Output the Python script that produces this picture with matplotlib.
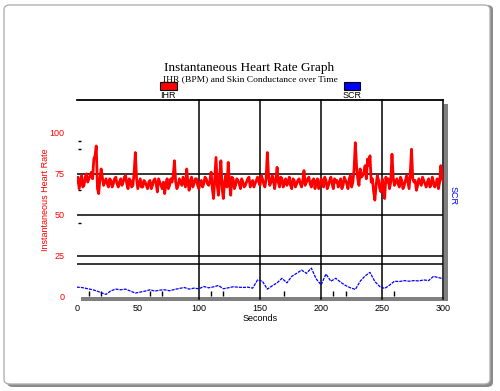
import matplotlib
matplotlib.use("Agg")
import matplotlib.pyplot as plt
from matplotlib.patches import FancyBboxPatch, Rectangle

W, H = 500, 391

# instantaneous heart rate (bpm), one reading per second
ihr_t = list(range(0, 301))
ihr = [70, 73, 66, 70, 74, 67, 68, 73, 75, 70, 72, 74, 76, 72, 84, 86, 92, 66, 63, 72,
       78, 73, 68, 70, 72, 69, 67, 72, 71, 67, 69, 72, 73, 69, 67, 70, 72, 68, 70, 73,
       74, 69, 66, 72, 71, 67, 68, 76, 88, 72, 66, 69, 72, 67, 67, 71, 70, 68, 66, 70,
       71, 66, 68, 71, 72, 69, 64, 72, 70, 68, 66, 70, 63, 69, 72, 66, 68, 72, 70, 74,
       83, 70, 66, 68, 72, 70, 68, 73, 70, 67, 78, 70, 65, 71, 73, 67, 69, 72, 72, 68,
       66, 70, 71, 67, 69, 73, 72, 69, 68, 71, 76, 66, 60, 72, 85, 68, 62, 74, 83, 66,
       60, 70, 74, 67, 82, 70, 62, 73, 72, 66, 68, 72, 71, 69, 66, 72, 70, 67, 68, 70,
       72, 73, 67, 69, 71, 67, 69, 71, 73, 70, 68, 74, 72, 69, 67, 72, 88, 74, 68, 70,
       74, 71, 66, 72, 79, 70, 67, 73, 72, 67, 70, 72, 68, 70, 73, 68, 66, 72, 71, 67,
       69, 71, 72, 69, 67, 71, 77, 68, 70, 72, 73, 69, 67, 71, 72, 66, 70, 72, 66, 69,
       72, 70, 67, 73, 71, 66, 68, 71, 73, 69, 66, 72, 70, 71, 67, 69, 72, 66, 68, 73,
       71, 69, 66, 72, 74, 67, 70, 78, 94, 80, 72, 68, 78, 73, 74, 76, 80, 72, 84, 80,
       86, 70, 72, 64, 59, 68, 74, 71, 66, 64, 72, 68, 60, 73, 70, 72, 66, 70, 87, 73,
       68, 70, 72, 69, 67, 73, 71, 66, 68, 71, 74, 70, 66, 76, 90, 72, 70, 71, 65, 68,
       72, 70, 68, 73, 71, 69, 67, 70, 72, 67, 68, 73, 70, 67, 69, 72, 66, 70, 80, 73,
       70]

# skin conductance, drawn in the same units as the chart, every 4 s
scr_t = list(range(0, 301, 4))
scr = [6.0, 5.8, 5.2, 4.6, 3.8, 2.6, 1.6, 3.8, 4.8, 4.4, 4.8, 3.6, 2.4, 3.0, 3.6, 4.4,
       3.6, 4.2, 4.4, 3.8, 4.6, 5.2, 5.8, 4.8, 5.4, 5.0, 6.4, 5.6, 6.2, 7.0, 5.0, 5.6,
       6.2, 6.0, 5.8, 6.0, 5.4, 10.4, 9.6, 4.8, 6.8, 8.6, 11.4, 8.6, 12.6, 14.4, 16.4, 14.4,
       17.6, 11.0, 7.4, 14.0, 9.6, 11.4, 9.0, 7.0, 5.6, 4.6, 9.6, 12.8, 15.0, 9.4, 6.4, 5.2,
       7.2, 9.6, 9.4, 10.0, 9.6, 10.0, 9.8, 10.4, 10.0, 12.6, 11.8, 11.2]

events = [10, 20, 60, 70, 110, 120, 170, 210, 220, 260]
left_marks = [95, 90, 65, 45]
y_ticks = [0, 25, 50, 75, 100]
x_ticks = [0, 50, 100, 150, 200, 250, 300]
h_grid = [20, 25, 50, 75]
v_grid = [100, 150, 200, 250, 300]


def fx(px):
    return px / W


def fy(py):
    return 1 - py / H


fig = plt.figure(figsize=(5, 3.91), dpi=100)

# card with shadow
fig.patches.append(FancyBboxPatch((fx(7), fy(387)), fx(486), 382 / H,
                                  boxstyle="round,pad=0,rounding_size=0.012",
                                  transform=fig.transFigure, fc="#8a8a8a", ec="none",
                                  zorder=-5))
fig.patches.append(FancyBboxPatch((fx(4), fy(384)), fx(486), 379 / H,
                                  boxstyle="round,pad=0,rounding_size=0.012",
                                  transform=fig.transFigure, fc="white", ec="#b0b0b0", lw=1,
                                  zorder=-4))

# plot frame shadow
fig.patches.append(Rectangle((fx(81), fy(300.5)), fx(366.5), 4 / H,
                             transform=fig.transFigure, fc="#808080", ec="none", zorder=-3))
fig.patches.append(Rectangle((fx(443.5), fy(300.5)), fx(4), 196.5 / H,
                             transform=fig.transFigure, fc="#808080", ec="none", zorder=-3))

ax = fig.add_axes([fx(76.7), fy(297), fx(366.6), 197 / H])
ax.set_facecolor("none")
ax.set_xlim(0, 300)
ax.set_ylim(0, 120)
for s in ax.spines.values():
    s.set_visible(False)

for v in h_grid:
    ax.axhline(v, color="black", lw=1.1)
ax.axhline(120, color="black", lw=1.3, clip_on=False)
for v in v_grid:
    ax.plot([v, v], [-1.5, 120], color="black", lw=1.1, clip_on=False)

ax.hlines(left_marks, 0.8, 3.5, color="black", lw=1)
ax.vlines(events, 0.6, 3.7, color="black", lw=1)

ax.plot(scr_t, scr, color="blue", lw=0.9, dashes=(2.5, 0.8))
ax.plot(ihr_t, ihr, color="red", lw=2.0)

ax.set_yticks(y_ticks)
ax.set_xticks(x_ticks)
ax.tick_params(length=0, labelsize=6.5, pad=5)
ax.tick_params(axis="y", labelcolor="red", pad=9)
for lab in ax.get_xticklabels() + ax.get_yticklabels():
    lab.set_family("Liberation Sans")

ax.set_xlabel("Seconds", fontsize=6.5, family="Liberation Sans", labelpad=1)
fig.text(fx(45.5), fy(200), "Instantaneous Heart Rate", color="red", rotation=90,
         fontsize=6.5, family="Liberation Sans", ha="center", va="center")
fig.text(fx(453), fy(196), "SCR", color="blue", rotation=270,
         fontsize=6.5, family="Liberation Sans", ha="center", va="center")

fig.text(fx(249.5), fy(68.5), "Instantaneous Heart Rate Graph", fontsize=9.5,
         family="Liberation Serif", ha="center", va="center")
fig.text(fx(250), fy(79.5), "IHR (BPM) and Skin Conductance over Time", fontsize=6.8,
         family="Liberation Serif", ha="center", va="center")

# legend boxes
for x0, col, name in [(160, "red", "IHR"), (343.5, "blue", "SCR")]:
    fig.patches.append(Rectangle((fx(x0), fy(90)), fx(16.5), 7.7 / H,
                                 transform=fig.transFigure, fc=col, ec="black", lw=0.8))
    fig.text(fx(x0 + 8.3), fy(95), name, fontsize=6.5, family="Liberation Sans",
             ha="center", va="center")

fig.savefig("out.png", dpi=100)
